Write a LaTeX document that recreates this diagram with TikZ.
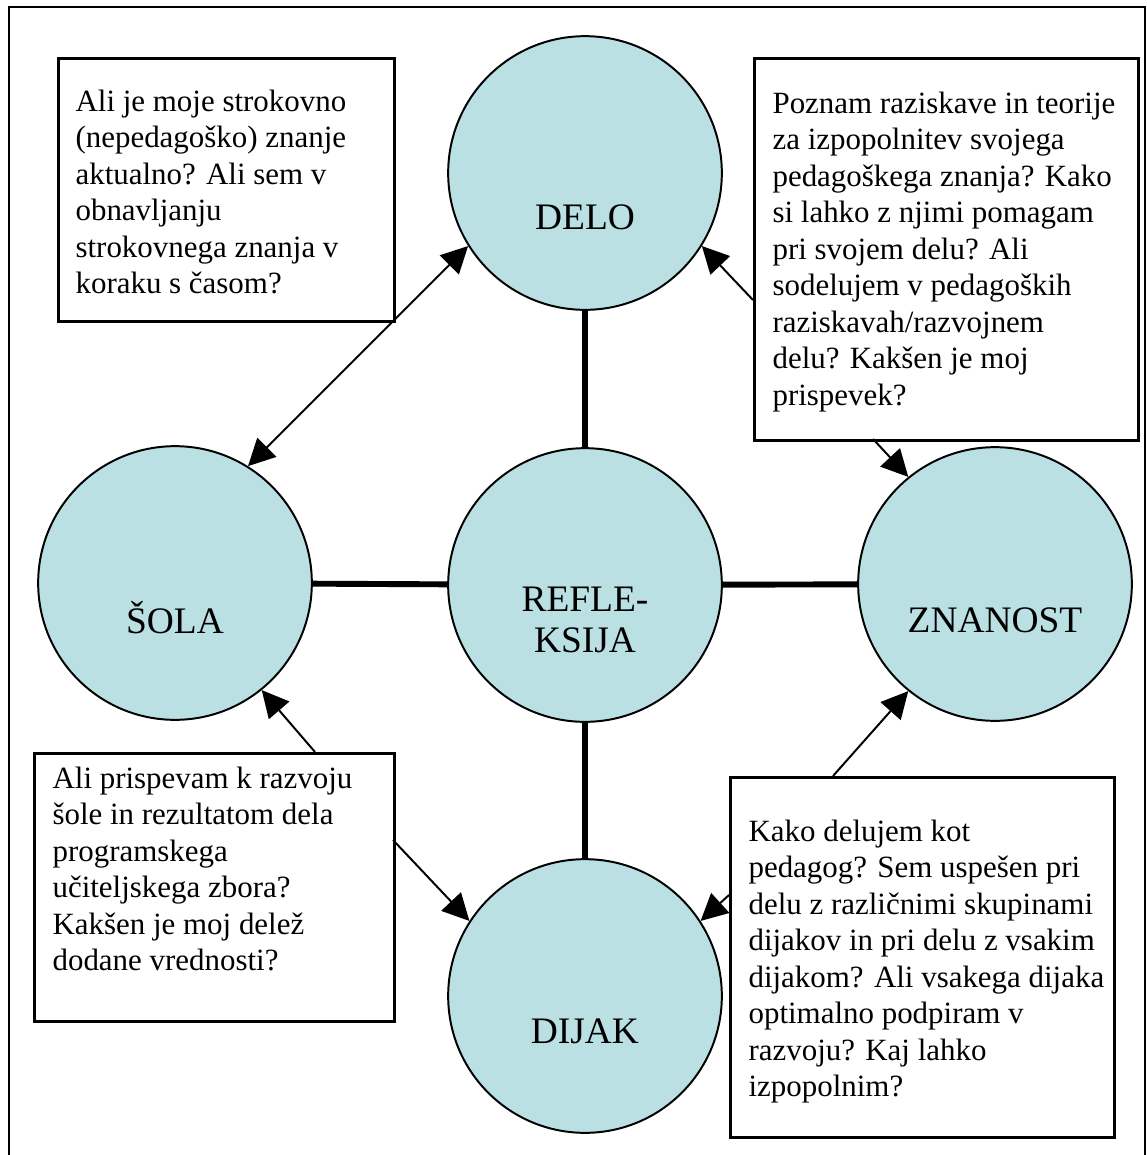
\documentclass[tikz,border=0pt]{standalone}
\usepackage{fontspec}
\setmainfont{Liberation Serif}
\usetikzlibrary{arrows.meta}
\definecolor{krogmodra}{RGB}{186,224,228}

\begin{document}
\begin{tikzpicture}[x=0.0125cm,y=-0.0125cm,
  krog/.style={circle,draw,line width=0.7pt,fill=krogmodra,minimum size=3.42cm,inner sep=0pt},
  napis/.style={font=\fontsize{13.3}{14.6}\selectfont,align=center,inner sep=0pt},
  okvir/.style={draw,fill=white,line width=0.9pt,inner sep=0pt,anchor=north west},
  besedilo/.style={font=\fontsize{11}{13}\selectfont,align=left,inner sep=0pt,anchor=north west},
  povezava/.style={line width=2.1pt},
  puscica/.style={line width=0.7pt,-{Triangle[length=9.5pt,width=9.5pt]}},
  dvojna/.style={line width=0.7pt,{Triangle[length=9.5pt,width=9.5pt]}-{Triangle[length=9.5pt,width=9.5pt]}}]
\useasboundingbox (0,0) rectangle (1147,1155);
\draw[line width=1pt] (9,1155) -- (9,7) -- (1145,7) -- (1145,1155);
\node[okvir,minimum width=4.2cm,minimum height=3.29cm] (okvirstroka) at (57,57) {};
\node[okvir,minimum width=4.8cm,minimum height=4.775cm] (okvirznanost) at (753,57) {};
\node[okvir,minimum width=4.5cm,minimum height=3.35cm] (okvirsola) at (33,752) {};
\node[okvir,minimum width=4.8cm,minimum height=4.5cm] (okvirdijak) at (729,776) {};
\node[krog] (delo) at (585,173) {};
\node[krog] (sola) at (175,583) {};
\node[krog] (znanost) at (995,584) {};
\node[krog] (dijak) at (585,996) {};
\node[krog] (refleksija) at (585,585) {};
\draw[povezava] (refleksija) -- (delo);
\draw[povezava] (refleksija) -- (sola);
\draw[povezava] (refleksija) -- (znanost);
\draw[povezava] (refleksija) -- (dijak);
\node[napis,anchor=base] (delonapis) at (585,229) {DELO};
\node[napis,anchor=base] (solanapis) at (175,633) {ŠOLA};
\node[napis,anchor=base] (znanostnapis) at (995,632) {ZNANOST};
\node[napis,anchor=base] (dijaknapis) at (585,1043) {DIJAK};
\node[napis] (refleksijanapis) at (585,620) {REFLE-\\KSIJA};
\node[besedilo] (tekststroka) at (75,89) {Ali je moje strokovno\\(nepedagoško) znanje\\aktualno? Ali sem v\\obnavljanju\\strokovnega znanja v\\koraku s časom?};
\node[besedilo] (tekstznanost) at (772,91) {Poznam raziskave in teorije\\za izpopolnitev svojega\\pedagoškega znanja? Kako\\si lahko z njimi pomagam\\pri svojem delu? Ali\\sodelujem v pedagoških\\raziskavah/razvojnem\\delu? Kakšen je moj\\prispevek?};
\node[besedilo] (tekstsola) at (52,766) {Ali prispevam k razvoju\\šole in rezultatom dela\\programskega\\učiteljskega zbora?\\Kakšen je moj delež\\dodane vrednosti?};
\node[besedilo] (tekstdijak) at (748,819) {Kako delujem kot\\pedagog? Sem uspešen pri\\delu z različnimi skupinami\\dijakov in pri delu z vsakim\\dijakom? Ali vsakega dijaka\\optimalno podpiram v\\razvoju? Kaj lahko\\izpopolnim?};
\coordinate (zacA) at (753,300);
\coordinate (zacB) at (873,439);
\coordinate (zacC) at (315,752);
\coordinate (zacD) at (393,840);
\coordinate (zacE) at (833,776);
\coordinate (zacF) at (729,895);
\draw[dvojna] (sola.58) -- (delo.212);
\draw[puscica] (zacA) -- (delo.328);
\draw[puscica] (zacB) -- (znanost.129);
\draw[puscica] (zacC) -- (sola.309);
\draw[puscica] (zacD) -- (dijak.147);
\draw[puscica] (zacE) -- (znanost.231);
\draw[puscica] (zacF) -- (dijak.33);
\end{tikzpicture}
\end{document}
